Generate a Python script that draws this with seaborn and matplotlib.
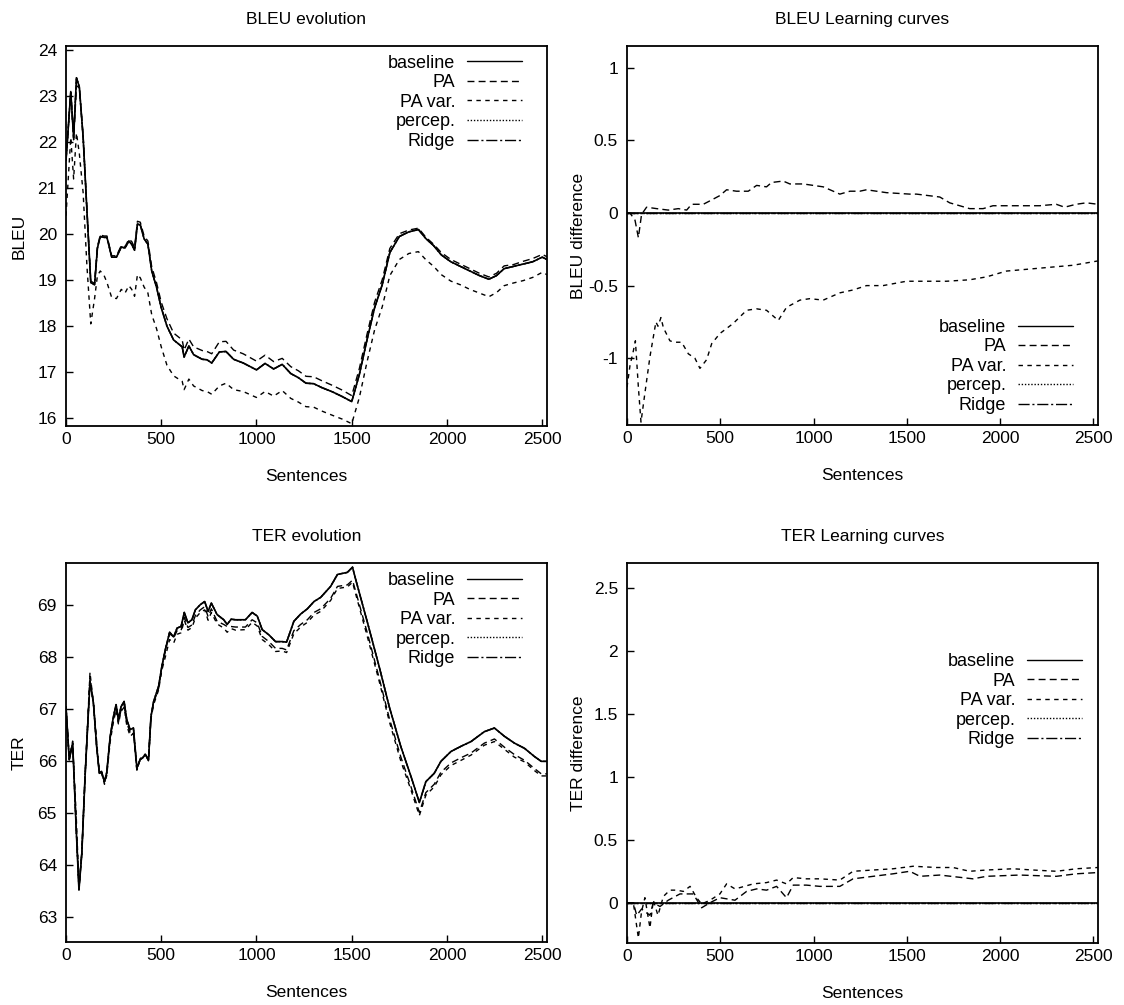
import matplotlib
matplotlib.use("Agg")
import matplotlib.pyplot as plt
import matplotlib.ticker as mticker
import seaborn as sns

# ---------------- data ----------------
series_names = ["baseline", "PA", "PA var.", "percep.", "Ridge"]

# BLEU evolution
x_bleu = [0, 25, 40, 55, 70, 90, 110, 130, 150, 165, 180, 200, 215, 240, 265, 290, 310, 330, 345, 360,
          375, 390, 410, 430, 450, 475, 500, 530, 565, 610, 620, 645, 670, 715, 740, 765, 805, 840, 880, 930,
          1000, 1045, 1090, 1135, 1180, 1220, 1260, 1300, 1340, 1400, 1450, 1500, 1540, 1580, 1620, 1660,
          1700, 1750, 1800, 1850, 1890, 1930, 1970, 2020, 2070, 2120, 2170, 2220, 2260, 2300, 2350, 2400,
          2450, 2500, 2525]
bleu_baseline = [21.6, 23.1, 22.1, 23.4, 23.2, 22.1, 20.5, 18.95, 18.9, 19.7, 19.95, 19.93, 19.93, 19.5,
                 19.5, 19.72, 19.7, 19.85, 19.78, 19.65, 20.22, 20.2, 19.9, 19.78, 19.2, 18.85, 18.4, 18.0,
                 17.7, 17.55, 17.33, 17.57, 17.38, 17.28, 17.27, 17.2, 17.44, 17.45, 17.28, 17.2, 17.05,
                 17.19, 17.07, 17.17, 16.97, 16.88, 16.76, 16.75, 16.67, 16.57, 16.47, 16.36, 16.95, 17.7,
                 18.4, 18.9, 19.6, 19.95, 20.05, 20.1, 19.9, 19.75, 19.55, 19.4, 19.3, 19.2, 19.1, 19.02,
                 19.1, 19.25, 19.3, 19.35, 19.4, 19.5, 19.45]
bleu_pa = [21.6, 23.08, 22.05, 23.23, 23.18, 22.13, 20.54, 18.98, 18.93, 19.73, 19.98, 19.96, 19.96, 19.53,
           19.53, 19.75, 19.73, 19.89, 19.84, 19.71, 20.28, 20.26, 19.96, 19.85, 19.29, 18.95, 18.52, 18.16,
           17.85, 17.7, 17.48, 17.72, 17.55, 17.47, 17.45, 17.4, 17.66, 17.67, 17.48, 17.4, 17.24, 17.37,
           17.23, 17.3, 17.12, 17.03, 16.91, 16.9, 16.82, 16.71, 16.61, 16.49, 17.08, 17.82, 18.52, 19.01,
           19.69, 20.01, 20.09, 20.13, 19.93, 19.78, 19.6, 19.45, 19.35, 19.25, 19.15, 19.07, 19.15, 19.31,
           19.34, 19.41, 19.47, 19.56, 19.51]
bleu_pavar = [20.4, 22.1, 21.2, 22.2, 21.75, 20.9, 19.3, 18.05, 18.6, 19.1, 19.2, 19.1, 18.95, 18.62, 18.6,
              18.8, 18.72, 18.88, 18.8, 18.65, 19.12, 19.05, 18.85, 18.72, 18.25, 17.95, 17.55, 17.15, 16.92,
              16.8, 16.62, 16.85, 16.7, 16.6, 16.58, 16.52, 16.7, 16.76, 16.62, 16.58, 16.45, 16.58, 16.48,
              16.6, 16.43, 16.35, 16.25, 16.24, 16.16, 16.06, 15.98, 15.88, 16.45, 17.22, 17.92, 18.42, 19.1,
              19.45, 19.58, 19.62, 19.44, 19.3, 19.12, 18.98, 18.9, 18.8, 18.72, 18.64, 18.73, 18.88, 18.94,
              18.99, 19.06, 19.17, 19.12]
bleu_percep = bleu_baseline
bleu_ridge = bleu_baseline

# BLEU learning curves (difference to baseline)
x_diff_zero = [0, 2525]
bleu_diff_baseline = [0, 0]
bleu_diff_percep = [0, 0]
bleu_diff_ridge = [0, 0]
x_bleu_diff_pa = [0, 16, 43, 61, 78, 105, 159, 221, 275, 320, 346, 409, 454, 498, 534, 587, 650, 695, 748,
                  775, 837, 873, 945, 1052, 1088, 1141, 1195, 1248, 1284, 1391, 1516, 1552, 1677, 1730, 1837,
                  1909, 1962, 2105, 2212, 2301, 2346, 2408, 2462, 2525]
bleu_diff_pa = [0, 0, -0.05, -0.17, -0.01, 0.04, 0.03, 0.02, 0.03, 0.02, 0.06, 0.06, 0.09, 0.12, 0.16, 0.15,
                0.15, 0.19, 0.18, 0.21, 0.22, 0.2, 0.2, 0.18, 0.16, 0.13, 0.15, 0.15, 0.16, 0.14, 0.13, 0.13,
                0.11, 0.07, 0.03, 0.03, 0.05, 0.05, 0.05, 0.06, 0.04, 0.06, 0.07, 0.06]
x_bleu_diff_pavar = [0, 16, 34, 45, 61, 75, 96, 123, 155, 166, 182, 195, 230, 252, 293, 329, 364, 391, 427,
                     454, 498, 570, 641, 695, 748, 811, 855, 927, 980, 1052, 1141, 1212, 1284, 1373, 1498,
                     1641, 1712, 1837, 1927, 2034, 2123, 2212, 2301, 2391, 2525]
bleu_diff_pavar = [-1.2, -1.05, -0.95, -0.88, -1.2, -1.44, -1.24, -0.99, -0.75, -0.78, -0.72, -0.79, -0.88,
                   -0.89, -0.89, -0.97, -1.0, -1.07, -1.01, -0.9, -0.83, -0.76, -0.67, -0.66, -0.67, -0.74,
                   -0.65, -0.6, -0.59, -0.6, -0.55, -0.53, -0.5, -0.5, -0.47, -0.47, -0.47, -0.46, -0.44,
                   -0.4, -0.39, -0.38, -0.37, -0.36, -0.33]

# TER evolution
x_ter = [0, 17, 35, 53, 68, 83, 100, 126, 144, 161, 175, 187, 202, 214, 232, 249, 263, 275, 289, 305, 319,
         337, 354, 372, 389, 403, 416, 433, 446, 460, 486, 503, 521, 544, 565, 583, 604, 621, 640, 661, 679,
         705, 728, 746, 763, 793, 828, 846, 867, 890, 942, 977, 1004, 1030, 1065, 1100, 1135, 1158, 1196,
         1232, 1267, 1302, 1337, 1389, 1425, 1477, 1504, 1521, 1583, 1644, 1697, 1758, 1811, 1855, 1889,
         1933, 1968, 2021, 2074, 2126, 2196, 2249, 2302, 2354, 2407, 2460, 2495, 2525]
ter_baseline = [67.04, 66.02, 66.34, 64.74, 63.52, 64.22, 65.7, 67.53, 67.11, 66.27, 65.76, 65.78, 65.6,
                65.78, 66.47, 66.85, 67.08, 66.8, 67.04, 67.14, 66.79, 66.6, 66.63, 65.86, 66.02, 66.06,
                66.12, 66.02, 66.85, 67.14, 67.43, 67.81, 68.13, 68.47, 68.38, 68.55, 68.58, 68.85, 68.65,
                68.71, 68.9, 69.0, 69.06, 68.87, 69.03, 68.81, 68.71, 68.62, 68.72, 68.71, 68.71, 68.85,
                68.78, 68.52, 68.42, 68.29, 68.29, 68.28, 68.68, 68.82, 68.92, 69.06, 69.14, 69.35, 69.58,
                69.62, 69.72, 69.48, 68.65, 67.81, 67.04, 66.27, 65.7, 65.2, 65.6, 65.76, 65.99, 66.18,
                66.28, 66.37, 66.56, 66.63, 66.47, 66.34, 66.24, 66.08, 65.99, 65.99]
ter_pa = [67.04, 66.05, 66.38, 64.8, 63.55, 64.25, 65.72, 67.6, 67.12, 66.28, 65.78, 65.8, 65.6, 65.76,
          66.44, 66.8, 67.02, 66.74, 66.98, 67.08, 66.73, 66.54, 66.56, 65.82, 66.04, 66.1, 66.13, 66.02,
          66.84, 67.12, 67.39, 67.78, 68.11, 68.45, 68.36, 68.5, 68.5, 68.76, 68.56, 68.61, 68.79, 68.9,
          68.96, 68.77, 68.92, 68.68, 68.62, 68.58, 68.58, 68.57, 68.57, 68.71, 68.65, 68.39, 68.29, 68.16,
          68.16, 68.13, 68.5, 68.62, 68.71, 68.85, 68.92, 69.12, 69.35, 69.38, 69.47, 69.25, 68.44, 67.59,
          66.82, 66.07, 65.5, 65.01, 65.39, 65.55, 65.78, 65.96, 66.06, 66.15, 66.34, 66.42, 66.26, 66.12,
          66.01, 65.85, 65.75, 65.75]
ter_pavar = [67.04, 66.02, 66.3, 65.0, 63.6, 64.2, 65.66, 67.7, 67.09, 66.37, 65.78, 65.76, 65.55, 65.72,
             66.37, 66.75, 66.98, 66.71, 66.95, 67.03, 66.68, 66.47, 66.53, 65.82, 66.03, 66.06, 66.12, 66.0,
             66.81, 67.08, 67.36, 67.74, 67.99, 68.33, 68.26, 68.43, 68.46, 68.7, 68.51, 68.56, 68.74, 68.85,
             68.9, 68.7, 68.85, 68.63, 68.55, 68.47, 68.54, 68.51, 68.52, 68.66, 68.59, 68.33, 68.23, 68.1,
             68.11, 68.08, 68.44, 68.57, 68.66, 68.8, 68.87, 69.08, 69.31, 69.34, 69.43, 69.2, 68.37, 67.53,
             66.76, 65.99, 65.44, 64.95, 65.34, 65.5, 65.73, 65.91, 66.01, 66.11, 66.3, 66.37, 66.22, 66.07,
             65.98, 65.81, 65.71, 65.71]
ter_percep = ter_baseline
ter_ridge = ter_baseline

# TER learning curves
ter_diff_baseline = [0, 0]
ter_diff_percep = [0, 0]
ter_diff_ridge = [0, 0]
x_ter_diff_pa = [0, 34, 52, 78, 123, 141, 177, 221, 284, 355, 400, 445, 498, 579, 641, 695, 748, 802, 855,
                 891, 962, 1034, 1141, 1212, 1320, 1427, 1516, 1570, 1677, 1855, 1927, 2105, 2302, 2409, 2525]
ter_diff_pa = [0, 0, -0.1, -0.05, -0.1, 0.0, -0.03, 0.02, 0.07, 0.07, -0.04, 0.0, 0.04, 0.02, 0.09, 0.11,
               0.1, 0.13, 0.04, 0.14, 0.14, 0.13, 0.13, 0.19, 0.21, 0.23, 0.25, 0.21, 0.22, 0.19, 0.21, 0.22,
               0.21, 0.23, 0.24]
x_ter_diff_pavar = [0, 34, 61, 78, 96, 123, 141, 166, 195, 230, 266, 302, 338, 373, 400, 445, 498, 534, 579,
                    605, 677, 748, 802, 855, 891, 962, 1034, 1141, 1212, 1320, 1427, 1534, 1659, 1748, 1837,
                    1927, 2070, 2177, 2302, 2409, 2525]
ter_diff_pavar = [0, 0, -0.28, -0.07, 0.04, -0.2, 0.02, -0.1, 0.05, 0.1, 0.1, 0.09, 0.13, 0.04, -0.01, 0.02,
                  0.07, 0.15, 0.11, 0.12, 0.15, 0.16, 0.18, 0.15, 0.2, 0.19, 0.19, 0.18, 0.25, 0.26, 0.27,
                  0.29, 0.28, 0.28, 0.25, 0.26, 0.27, 0.26, 0.25, 0.27, 0.28]

# ---------------- style ----------------
sns.set_theme(style="ticks")
plt.rcParams["font.family"] = ["Liberation Sans", "DejaVu Sans"]
plt.rcParams["axes.unicode_minus"] = False
for k in ["text.color", "axes.labelcolor", "xtick.color", "ytick.color", "axes.edgecolor"]:
    plt.rcParams[k] = "black"

FS = 12.5
LEG_FS = 13

line_styles = {
    "baseline": "-",
    "PA": (0, (5, 3)),
    "PA var.": (0, (3.2, 3.2)),
    "percep.": (0, (1, 1.3)),
    "Ridge": (0, (8, 2, 1.5, 2)),
}

W, H = 1124, 1005
fig = plt.figure(figsize=(W / 100, H / 100), dpi=100)


def add_axes_px(left, top, right, bottom):
    return fig.add_axes([left / W, 1 - bottom / H, (right - left) / W, (bottom - top) / H])


ax_tl = add_axes_px(66, 46, 547, 426)
ax_tr = add_axes_px(627, 46, 1098, 425)
ax_bl = add_axes_px(66, 563, 547, 942)
ax_br = add_axes_px(627, 563, 1098, 943)


def draw(ax, xs_list, ys_list):
    for name, xs, ys in zip(series_names, xs_list, ys_list):
        sns.lineplot(x=xs, y=ys, ax=ax, color="black", linestyle=line_styles[name],
                     linewidth=1.0 if name != "baseline" else 1.2, label=name,
                     estimator=None, sort=False, errorbar=None)


draw(ax_tl, [x_bleu] * 5, [bleu_baseline, bleu_pa, bleu_pavar, bleu_percep, bleu_ridge])
draw(ax_tr, [x_diff_zero, x_bleu_diff_pa, x_bleu_diff_pavar, x_diff_zero, x_diff_zero],
     [bleu_diff_baseline, bleu_diff_pa, bleu_diff_pavar, bleu_diff_percep, bleu_diff_ridge])
draw(ax_bl, [x_ter] * 5, [ter_baseline, ter_pa, ter_pavar, ter_percep, ter_ridge])
draw(ax_br, [x_diff_zero, x_ter_diff_pa, x_ter_diff_pavar, x_diff_zero, x_diff_zero],
     [ter_diff_baseline, ter_diff_pa, ter_diff_pavar, ter_diff_percep, ter_diff_ridge])

fmt = mticker.FuncFormatter(lambda v, p: "%g" % round(v, 6))

settings = [
    (ax_tl, "BLEU evolution", "BLEU", (15.83, 24.09), [16, 17, 18, 19, 20, 21, 22, 23, 24],
     (0.948, 0.977), -0.081),
    (ax_tr, "BLEU Learning curves", "BLEU difference", (-1.46, 1.15), [-1, -0.5, 0, 0.5, 1],
     (0.947, 0.280), -0.087),
    (ax_bl, "TER evolution", "TER", (62.52, 69.8), [63, 64, 65, 66, 67, 68, 69],
     (0.948, 0.976), -0.081),
    (ax_br, "TER Learning curves", "TER difference", (-0.32, 2.70), [0, 0.5, 1, 1.5, 2, 2.5],
     (0.966, 0.763), -0.087),
]

for ax, title, ylabel, ylim, yticks, leg_anchor, ylab_x in settings:
    ax.set_xlim(0, 2525)
    ax.set_ylim(*ylim)
    ax.set_xticks([0, 500, 1000, 1500, 2000, 2500])
    ax.set_yticks(yticks)
    ax.yaxis.set_major_formatter(fmt)
    ax.xaxis.set_major_formatter(fmt)
    ax.tick_params(axis="x", direction="in", length=5, width=1.0, labelsize=FS, pad=4.5)
    ax.tick_params(axis="y", direction="in", length=5, width=1.0, labelsize=FS, pad=6.5)
    for s in ax.spines.values():
        s.set_visible(True)
        s.set_linewidth(1.3)
        s.set_color("black")
    ax.set_title(title, fontsize=FS, pad=16)
    ax.set_xlabel("Sentences", fontsize=FS, va="top")
    ax.set_ylabel(ylabel, fontsize=FS)
    ax.xaxis.set_label_coords(0.5, -0.113)
    ax.yaxis.set_label_coords(ylab_x, 0.5)
    ax.set_facecolor("white")
    leg = ax.legend(loc="upper right", bbox_to_anchor=leg_anchor, frameon=False, markerfirst=False,
                    handlelength=3.05, handletextpad=0.65, labelspacing=0.14, borderpad=0,
                    borderaxespad=0, fontsize=LEG_FS)
    for line in leg.get_lines():
        line.set_linewidth(1.0)

fig.savefig("out.png", dpi=100, facecolor="white")
